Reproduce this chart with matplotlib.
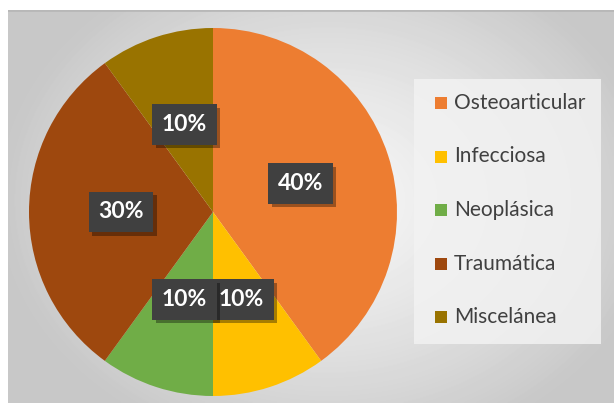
import numpy as np
import matplotlib.pyplot as plt
import matplotlib.patheffects as pe
from matplotlib.patches import Rectangle

# datos del gráfico
categorias = ["Osteoarticular", "Infecciosa", "Neoplásica", "Traumática", "Miscelánea"]
porcentajes = [40, 10, 10, 30, 10]
colores = ["#ED7D31", "#FFC000", "#70AD47", "#9E480E", "#997300"]

W, H = 614, 403
fig = plt.figure(figsize=(W / 100, H / 100), dpi=100)
fig.patch.set_facecolor("white")

# fondo gris con degradado radial
bg = fig.add_axes([8 / W, 0, (W - 8) / W, (H - 10) / H])
yy, xx = np.mgrid[0:393, 0:606]
d = np.sqrt(((xx - 320) / 330.0) ** 2 + ((yy - 190) / 260.0) ** 2)
d = np.clip(d, 0, 1)
grad = 0.965 - 0.18 * d ** 1.3
bg.imshow(grad, cmap="gray", vmin=0, vmax=1, aspect="auto", interpolation="bilinear")
bg.axhline(0, color="#b8b8b8", lw=2)
bg.set_axis_off()

# gráfico circular
r = 184
ax = fig.add_axes([(213 - r) / W, (H - 212 - r) / H, 2 * r / W, 2 * r / H])
wedges, _ = ax.pie(porcentajes, colors=colores, startangle=90, counterclock=False,
                   radius=1, wedgeprops=dict(linewidth=0))
ax.set_xlim(-1, 1)
ax.set_ylim(-1, 1)
ax.set_axis_off()

# etiquetas de porcentaje en cajas oscuras con sombra
total = sum(porcentajes)
acum = 0
for p in porcentajes:
    medio = 90 - (acum + p / 2) / total * 360
    acum += p
    x = 0.5 * np.cos(np.radians(medio))
    y = 0.5 * np.sin(np.radians(medio))
    t = ax.text(x, y, f"{p}%", ha="center", va="center", fontsize=16.5,
                fontweight="bold", family="Lato", color="white",
                bbox=dict(boxstyle="square,pad=0.42", fc="#404040", ec="none"))
    t.get_bbox_patch().set_path_effects(
        [pe.SimplePatchShadow(offset=(2.5, -2.5), shadow_rgbFace="black", alpha=0.35),
         pe.Normal()])

# leyenda
lx0, lx1, ly0, ly1 = 414, 601, 79, 344
fig.patches.append(Rectangle((lx0 / W, 1 - ly1 / H), (lx1 - lx0) / W, (ly1 - ly0) / H,
                             transform=fig.transFigure, fc="#f2f2f2", ec="none", alpha=0.85))
for i, (cat, col) in enumerate(zip(categorias, colores)):
    yc = 103 + i * 53.5
    fig.patches.append(Rectangle((435 / W, 1 - (yc + 6) / H), 12 / W, 12 / H,
                                 transform=fig.transFigure, fc=col, ec="none"))
    fig.text(454 / W, 1 - yc / H, cat, ha="left", va="center", fontsize=15,
             family="Lato", color="#404040")

fig.savefig("out.png", dpi=100)
